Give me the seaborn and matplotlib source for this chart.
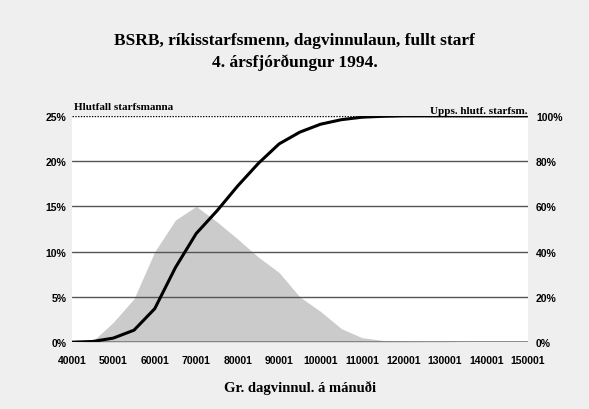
import matplotlib.pyplot as plt
import seaborn as sns
import pandas as pd

sns.set_theme(style="white")
plt.rcParams["font.family"] = ["Liberation Sans", "DejaVu Sans"]
plt.rcParams["text.color"] = "black"
plt.rcParams["axes.labelcolor"] = "black"
plt.rcParams["xtick.color"] = "black"
plt.rcParams["ytick.color"] = "black"

# Salary brackets (kr. per month) and distribution
salary = [40001, 45001, 50001, 55001, 60001, 65001, 70001, 75001, 80001,
          85001, 90001, 95001, 100001, 105001, 110001, 115001, 120001,
          125001, 130001, 135001, 140001, 145001, 150001]
share_pct = [0.0, 0.1, 2.2, 4.8, 10.0, 13.5, 15.0, 13.3, 11.4, 9.4, 7.7,
             5.0, 3.4, 1.5, 0.5, 0.2, 0.1, 0.05, 0.05, 0.0, 0.0, 0.0, 0.0]
cum_pct = [0.0, 0.3, 1.8, 5.3, 14.8, 33.0, 48.0, 58.0, 69.0, 79.0, 87.6,
           92.8, 96.3, 98.3, 99.4, 99.8, 100.0, 100.0, 100.0, 100.0, 100.0,
           100.0, 100.0]
xticks = list(range(40001, 150002, 10000))
left_ticks = [0, 5, 10, 15, 20, 25]
right_ticks = [0, 20, 40, 60, 80, 100]

df = pd.DataFrame({"salary": salary, "share": share_pct, "cum": cum_pct})

fig = plt.figure(figsize=(5.89, 4.10), dpi=100)
fig.patch.set_facecolor("#efefef")
ax = fig.add_axes([0.122, 0.163, 0.774, 0.552])
ax.set_facecolor("white")

ax.fill_between(df["salary"], 0, df["share"], color="#cbcbcb", lw=0)
ax.set_xlim(40001, 150001)
ax.set_ylim(0, 25)
ax.set_yticks(left_ticks)
ax.set_yticklabels([f"{v}%" for v in left_ticks])
ax.set_xticks(xticks)
ax.set_xticklabels([str(v) for v in xticks])
for v in left_ticks[1:-1]:
    ax.axhline(v, color="#555555", lw=1, zorder=1)
ax.axhline(0, color="#777777", lw=1.2, zorder=1)
ax.axhline(25, color="black", lw=1, ls=(0, (1, 1)), zorder=1)
for s in ax.spines.values():
    s.set_visible(False)
ax.tick_params(length=0, labelsize=7.5)
ax.tick_params(axis="x", pad=9)
ax.tick_params(axis="y", pad=4)
for lab in ax.get_xticklabels() + ax.get_yticklabels():
    lab.set_fontweight("bold")
ax.set_xlabel("Gr. dagvinnul. á mánuði", family="Liberation Serif",
              fontweight="bold", fontsize=10.5, labelpad=11)

ax2 = ax.twinx()
sns.lineplot(data=df, x="salary", y="cum", ax=ax2, color="black", lw=2.2)
ax2.set_ylim(0, 100)
ax2.set_yticks(right_ticks)
ax2.set_yticklabels([f"{v}%" for v in right_ticks])
ax2.set_ylabel("")
for s in ax2.spines.values():
    s.set_visible(False)
ax2.tick_params(length=0, labelsize=7.5, pad=6)
for lab in ax2.get_yticklabels():
    lab.set_fontweight("bold")

ax.text(0.005, 1.02, "Hlutfall starfsmanna", transform=ax.transAxes,
        family="Liberation Serif", fontweight="bold", fontsize=8,
        ha="left", va="bottom")
ax.text(1.0, 1.005, "Upps. hlutf. starfsm.", transform=ax.transAxes,
        family="Liberation Serif", fontweight="bold", fontsize=8,
        ha="right", va="bottom")

fig.text(0.5, 0.900, "BSRB, ríkisstarfsmenn, dagvinnulaun, fullt starf",
         family="Liberation Serif", fontweight="bold", fontsize=12.5,
         ha="center", va="center")
fig.text(0.5, 0.846, "4. ársfjórðungur 1994.",
         family="Liberation Serif", fontweight="bold", fontsize=12.5,
         ha="center", va="center")

fig.savefig("out.png", dpi=100, facecolor=fig.get_facecolor())
